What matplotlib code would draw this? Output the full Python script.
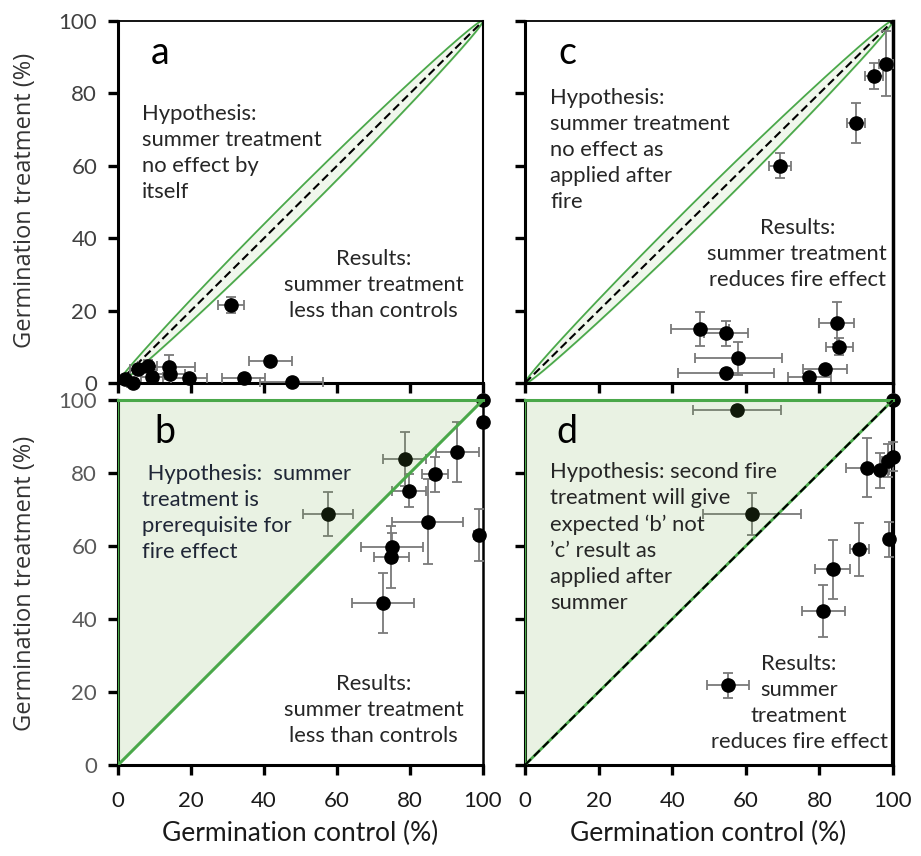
import numpy as np
import matplotlib
matplotlib.use("Agg")
import matplotlib.pyplot as plt
from matplotlib.patches import Polygon

plt.rcParams['font.family'] = ['Lato', 'DejaVu Sans']

# ---------------- data ----------------
# panel a
a_x = [31.0, 41.7, 34.4, 47.6, 19.4, 14.0, 14.3, 9.4, 8.1, 5.4, 4.0, 2.0]
a_y = [21.5, 6.1, 1.5, 0.3, 1.3, 4.5, 2.5, 1.6, 4.8, 3.8, 0.1, 1.0]
a_xe = [3.5, 5.9, 6.0, 8.6, 5.0, 7.0, 4.0, 3.0, 2.5, 2.0, 1.5, 1.0]
a_ye = [2.3, 1.0, 1.0, 0.5, 0.8, 3.3, 1.0, 0.8, 1.5, 1.0, 0.5, 0.5]

# panel c
c_x = [47.6, 54.6, 58.0, 54.6, 84.7, 85.4, 81.5, 77.3, 69.3, 89.9, 94.8, 98.1]
c_y = [14.8, 13.7, 6.8, 2.8, 16.6, 10.0, 3.8, 1.6, 60.0, 71.9, 84.8, 88.2]
c_xe = [7.9, 5.9, 11.9, 13.0, 4.7, 3.6, 5.9, 5.8, 3.0, 2.5, 2.5, 2.0]
c_ye = [4.7, 3.4, 4.6, 1.0, 5.7, 2.3, 1.0, 1.0, 3.5, 5.5, 3.5, 9.0]

# panel b
b_x = [100.0, 100.0, 78.5, 93.0, 86.9, 79.7, 84.8, 98.9, 75.1, 74.8, 72.6, 57.5]
b_y = [100.0, 93.9, 83.8, 85.7, 79.6, 75.2, 66.7, 63.0, 59.6, 57.0, 44.3, 68.8]
b_xe = [0.0, 0.0, 5.9, 5.9, 3.5, 4.6, 9.7, 1.4, 8.4, 4.8, 8.4, 6.8]
b_ye = [0.0, 0.0, 7.3, 8.2, 4.8, 4.6, 11.7, 7.2, 4.0, 8.4, 8.2, 6.0]

# panel d
d_x = [100.0, 57.7, 61.7, 92.9, 96.5, 98.6, 100.0, 99.0, 90.8, 83.6, 81.1, 55.2]
d_y = [100.0, 97.3, 68.7, 81.5, 80.8, 83.4, 84.5, 61.9, 59.1, 53.6, 42.2, 21.8]
d_xe = [0.0, 12.0, 13.3, 5.8, 2.5, 1.5, 1.0, 1.0, 2.6, 4.8, 5.8, 5.8]
d_ye = [0.0, 1.0, 5.8, 8.1, 4.8, 4.5, 4.0, 4.8, 7.2, 8.1, 7.1, 3.4]

ticks = [0, 20, 40, 60, 80, 100]
tick_labels = ['0', '20', '40', '60', '80', '100']

# half-width of the "no effect" lens around the 1:1 line (panels a, c)
lens_half_width = 4.0

GREEN = '#4aa84a'
TXT = '#262626'

W, H = 921, 856
fig = plt.figure(figsize=(W / 100, H / 100), dpi=100)

def box(l, t, r, b):
    return [l / W, 1 - b / H, (r - l) / W, (b - t) / H]

ax_a = fig.add_axes(box(118, 21, 483, 383))
ax_c = fig.add_axes(box(525, 21, 893, 383))
ax_b = fig.add_axes(box(118, 400, 483, 765))
ax_d = fig.add_axes(box(525, 400, 893, 765))

for ax, rthick in [(ax_a, 1.5), (ax_c, 2.5), (ax_b, 1.8), (ax_d, 3.0)]:
    ax.set_xlim(0, 100)
    ax.set_ylim(0, 100)
    ax.set_xticks(ticks)
    ax.set_yticks(ticks)
    ax.spines['left'].set_linewidth(2.2)
    ax.spines['bottom'].set_linewidth(2.2)
    ax.spines['top'].set_linewidth(1.3)
    ax.spines['right'].set_linewidth(rthick)
    ax.tick_params(direction='out', length=7, width=2.4, labelsize=16)
    ax.set_facecolor('white')

for ax in (ax_a, ax_c):
    ax.set_xticklabels([])
ax_c.set_yticklabels([])
ax_d.set_yticklabels([])
ax_a.set_yticklabels(tick_labels, color='#404040')
ax_b.set_yticklabels(tick_labels, color='#595959')
ax_b.set_xticklabels(tick_labels, color='#1a1a1a')
ax_d.set_xticklabels(tick_labels, color='#1a1a1a')
for ax in (ax_b, ax_d):
    ax.tick_params(axis='x', pad=12)
for ax in (ax_a, ax_b):
    ax.tick_params(axis='y', pad=8)

def points(ax, x, y, xe, ye):
    ax.errorbar(x, y, xerr=xe, yerr=ye, fmt='o', color='black', ms=9.5,
                ecolor='#7a7a7a', elinewidth=1.3, capsize=3.8, capthick=1.3,
                zorder=3, clip_on=False)

# ---- panels a and c: envelope lens ----
xs = np.linspace(0, 100, 400)
for ax in (ax_a, ax_c):
    off = lens_half_width * np.sqrt(np.sin(np.pi * xs / 100))
    up = xs + off
    lo = xs - off
    ax.fill_between(xs, lo, up, color='#f0f7ec', zorder=1)
    ax.plot(xs, up, color=GREEN, lw=1.3, zorder=2)
    ax.plot(xs, lo, color=GREEN, lw=1.3, zorder=2)
    ax.plot([0, 100], [0, 100], color='black', lw=1.5, ls=(0, (4, 2)), zorder=2)

points(ax_a, a_x, a_y, a_xe, a_ye)
points(ax_c, c_x, c_y, c_xe, c_ye)

# ---- panels b and d: triangle ----
points(ax_b, b_x, b_y, b_xe, b_ye)
points(ax_d, d_x, d_y, d_xe, d_ye)
for ax in (ax_b, ax_d):
    tri = Polygon([[0, 0], [0, 100], [100, 100]], closed=True,
                  facecolor='#70ad47', alpha=0.15, edgecolor='none', zorder=4)
    ax.add_patch(tri)
    ax.plot([0, 100], [100, 100], color=GREEN, lw=2.2, zorder=5, clip_on=False)
    ax.plot([0, 0], [0, 100], color=GREEN, lw=1.0, zorder=5)
ax_b.plot([0, 100], [0, 100], color=GREEN, lw=2.2, zorder=5)
ax_d.plot([0, 100], [0, 100], color=GREEN, lw=2.0, zorder=5)
ax_d.plot([0, 100], [0, 100], color='black', lw=1.5, ls=(0, (4, 2)), zorder=6)

# ---- panel letters ----
for ax, lab, x in [(ax_a, 'a', 9.0), (ax_c, 'c', 9.0), (ax_b, 'b', 10.0), (ax_d, 'd', 8.5)]:
    ax.text(x, 88.2, lab, fontsize=27, ha='left', va='baseline', color='black', zorder=7)

# ---- annotations ----
kw = dict(fontsize=15.8, linespacing=1.38, zorder=7)
ax_a.text(6.5, 77.0, 'Hypothesis:\nsummer treatment\nno effect by\nitself',
          ha='left', va='top', color=TXT, **kw)
ax_a.text(70.0, 37.0, 'Results:\nsummer treatment\nless than controls',
          ha='center', va='top', color=TXT, **kw)
ax_c.text(6.8, 81.5, 'Hypothesis:\nsummer treatment\nno effect as\napplied after\nfire',
          ha='left', va='top', color=TXT, **kw)
ax_c.text(74.0, 45.5, 'Results:\nsummer treatment\nreduces fire effect',
          ha='center', va='top', color=TXT, **kw)
ax_b.text(6.6, 82.5, ' Hypothesis:  summer\ntreatment is\nprerequisite for\nfire effect',
          ha='left', va='top', color='#1f2636', **kw)
ax_b.text(70.0, 25.0, 'Results:\nsummer treatment\nless than controls',
          ha='center', va='top', color=TXT, **kw)
ax_d.text(6.8, 83.0, 'Hypothesis: second fire\ntreatment will give\nexpected \u2018b\u2019 not\n\u2019c\u2019 result as\napplied after\nsummer',
          ha='left', va='top', color=TXT, **kw)
ax_d.text(74.5, 30.5, 'Results:\nsummer\ntreatment\nreduces fire effect',
          ha='center', va='top', color=TXT, **kw)

# ---- axis labels ----
for yc in (200, 583):
    fig.text(25 / W, 1 - yc / H, 'Germination treatment (%)', rotation=90,
             ha='center', va='center', fontsize=17, color='#333333',
             family=['Open Sans', 'DejaVu Sans'])
for xc in (300, 708):
    fig.text(xc / W, 1 - 833 / H, 'Germination control (%)', ha='center', va='center',
             fontsize=19, color='#1a1a1a')

fig.savefig('out.png', dpi=100, facecolor='white')
